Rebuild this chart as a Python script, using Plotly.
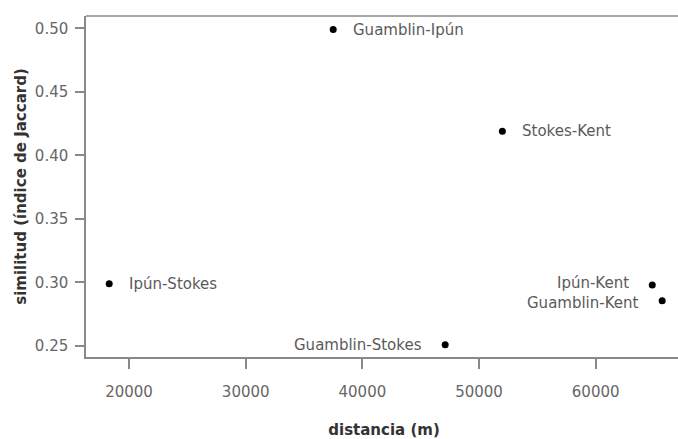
import plotly.graph_objects as go

pairs = ["Guamblin-Ipún", "Stokes-Kent", "Ipún-Stokes", "Guamblin-Stokes", "Ipún-Kent", "Guamblin-Kent"]
distance_m = [37500, 52000, 18300, 47100, 64850, 65700]
jaccard = [0.499, 0.419, 0.299, 0.251, 0.298, 0.2855]
label_side = ["right", "right", "right", "left", "left", "left"]
label_nudge_px = [0, 0, 0, 0, 2, -2]

x_ticks = [20000, 30000, 40000, 50000, 60000]
y_ticks = [0.25, 0.30, 0.35, 0.40, 0.45, 0.50]
y_tick_text = ["0.25", "0.30", "0.35", "0.40", "0.45", "0.50"]

font_family = "DejaVu Sans, sans-serif"

fig = go.Figure()
fig.add_trace(go.Scatter(
    x=distance_m, y=jaccard, mode="markers",
    marker=dict(color="black", size=7),
    hovertext=pairs, showlegend=False, cliponaxis=False,
))

annotations = []
for name, xv, yv, side, nudge in zip(pairs, distance_m, jaccard, label_side, label_nudge_px):
    annotations.append(dict(
        x=xv, y=yv, xref="x", yref="y", text=name, showarrow=False,
        xanchor="left" if side == "right" else "right",
        xshift=19 if side == "right" else -22,
        yshift=nudge,
        borderpad=0,
        font=dict(family=font_family, size=15, color="#5a5a5a"),
    ))

fig.update_layout(
    width=682, height=439,
    margin=dict(l=86, r=0, t=16, b=82, autoexpand=False),
    paper_bgcolor="white", plot_bgcolor="white",
    font=dict(family=font_family, size=15, color="#666666"),
    annotations=annotations,
    shapes=[dict(type="line", xref="paper", yref="paper", x0=0, x1=1, y0=1, y1=1,
                 line=dict(color="#888888", width=1.5))],
    xaxis=dict(
        range=[16310, 67400], tickvals=x_ticks, ticktext=[str(v) for v in x_ticks],
        showgrid=False, zeroline=False, showline=True, linecolor="#888888", linewidth=1.5,
        ticks="outside", ticklen=10, tickcolor="#888888", tickwidth=1.5,
        tickfont=dict(size=15, color="#666666"), ticklabelstandoff=10, automargin=False,
        title=dict(text="<b>distancia (m)</b>", font=dict(size=15, color="#333333"), standoff=27),
    ),
    yaxis=dict(
        range=[0.2413, 0.5097], tickvals=y_ticks, ticktext=y_tick_text,
        showgrid=False, zeroline=False, showline=True, linecolor="#888888", linewidth=1.5,
        ticks="outside", ticklen=9, tickcolor="#888888", tickwidth=1.5,
        tickfont=dict(size=15, color="#666666"), ticklabelstandoff=4, automargin=False,
        title=dict(text="<b>similitud (índice de Jaccard)</b>", font=dict(size=15, color="#333333"), standoff=5),
    ),
)

fig.write_html(
    "out.html",
    config={"displayModeBar": False},
    post_script="document.body.style.margin='0px'; document.body.style.overflow='hidden';",
)
